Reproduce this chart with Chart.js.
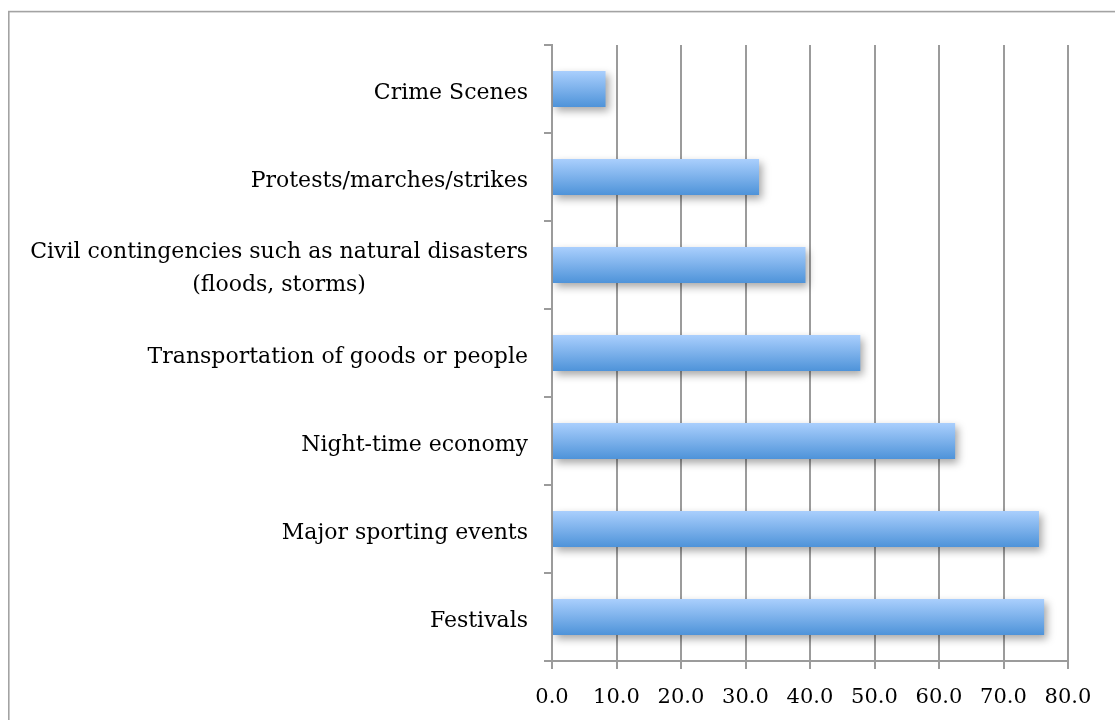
<!DOCTYPE html>
<html>
<head>
<meta charset="utf-8">
<script src="https://cdn.jsdelivr.net/npm/chart.js@4.4.1/dist/chart.umd.min.js"></script>
<style>
  html, body { margin: 0; padding: 0; background: #ffffff; }
  #wrap { width: 1115px; height: 720px; position: relative; }
</style>
</head>
<body>
<div id="wrap"><canvas id="chart"></canvas></div>
<script>
// Settings where CCTV / drone use was reported (percent of respondents)
const categories = [
  'Crime Scenes',
  'Protests/marches/strikes',
  ['Civil contingencies such as natural disasters', '(floods, storms)'],
  'Transportation of goods or people',
  'Night-time economy',
  'Major sporting events',
  'Festivals'
];
const values = [8.3, 32.1, 39.3, 47.8, 62.5, 75.5, 76.3];
const axisMin = 0;
const axisMax = 80;
const axisStep = 10;

const GRID = '#9b9b9b';
const LABEL_FONT = '22px "DejaVu Serif"';

// Thin grey frame around the whole chart
const framePlugin = {
  id: 'frame',
  beforeDraw(chart) {
    const c = chart.ctx;
    c.save();
    c.strokeStyle = '#a3a3a3';
    c.lineWidth = 1.6;
    c.strokeRect(8.8, 11.6, 1300, 900);
    c.restore();
  }
};

// Soft drop shadow under the bars
const shadowPlugin = {
  id: 'barShadow',
  beforeDatasetsDraw(chart) {
    const c = chart.ctx;
    c.save();
    c.shadowColor = 'rgba(0,0,0,0.35)';
    c.shadowBlur = 8;
    c.shadowOffsetX = 3;
    c.shadowOffsetY = 4;
  },
  afterDatasetsDraw(chart) {
    chart.ctx.restore();
  }
};

// Category labels, multi-line labels centred on their widest line
const categoryLabelPlugin = {
  id: 'categoryLabels',
  afterDraw(chart) {
    const ys = chart.scales.y;
    const c = chart.ctx;
    c.save();
    c.font = LABEL_FONT;
    c.fillStyle = '#000000';
    c.textBaseline = 'middle';
    c.textAlign = 'center';
    const rightEdge = ys.right - 24;
    const lineHeight = 33;
    categories.forEach((lab, i) => {
      const lines = Array.isArray(lab) ? lab : [lab];
      const w = Math.max(...lines.map(l => c.measureText(l).width));
      const cy = ys.getPixelForTick(i);
      lines.forEach((l, k) => {
        c.fillText(l, rightEdge - w / 2, cy + 4 + (k - (lines.length - 1) / 2) * lineHeight);
      });
    });
    c.restore();
  }
};

function barGradient(ctx) {
  const ch = ctx.chart;
  const ys = ch.scales && ch.scales.y;
  if (!ch.chartArea || !ys || ctx.dataIndex === undefined) return '#7fb1ec';
  const cy = ys.getPixelForTick(ctx.dataIndex);
  const half = 18;
  const g = ch.ctx.createLinearGradient(0, cy - half, 0, cy + half);
  g.addColorStop(0, '#aacffd');
  g.addColorStop(1, '#4e93d9');
  return g;
}

new Chart(document.getElementById('chart'), {
  type: 'bar',
  data: {
    labels: categories,
    datasets: [{
      data: values,
      backgroundColor: barGradient,
      borderWidth: 0,
      barPercentage: 0.41,
      categoryPercentage: 1
    }]
  },
  options: {
    indexAxis: 'y',
    responsive: true,
    maintainAspectRatio: false,
    animation: false,
    devicePixelRatio: 1,
    layout: { padding: { top: 45, right: 47, left: 0, bottom: 0 } },
    plugins: {
      legend: { display: false },
      tooltip: { enabled: false }
    },
    scales: {
      x: {
        type: 'linear',
        min: axisMin,
        max: axisMax,
        ticks: {
          stepSize: axisStep,
          callback: v => Number(v).toFixed(1),
          font: { family: 'DejaVu Serif', size: 21 },
          color: '#000000',
          padding: 16,
          maxRotation: 0
        },
        grid: { color: GRID, lineWidth: 2, tickLength: 8 },
        border: { color: GRID, width: 2 },
        afterFit(s) { s.height = 59; }
      },
      y: {
        type: 'category',
        ticks: { display: false },
        grid: { drawOnChartArea: false, color: GRID, lineWidth: 2, tickLength: 8, offset: true },
        border: { color: GRID, width: 2 },
        afterFit(s) { s.width = 552; }
      }
    }
  },
  plugins: [framePlugin, shadowPlugin, categoryLabelPlugin]
});
</script>
</body>
</html>
